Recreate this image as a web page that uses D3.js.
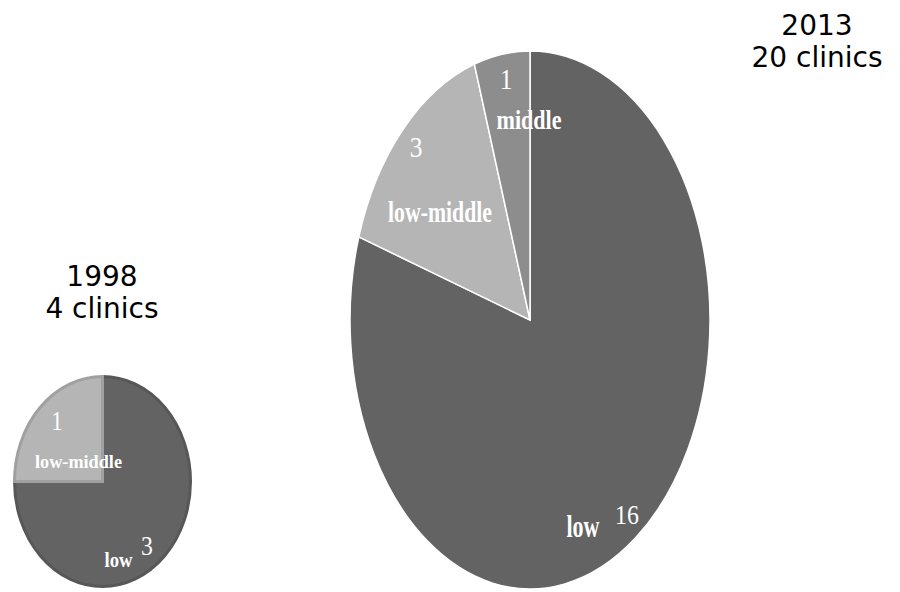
<!DOCTYPE html>
<html>
<head>
<meta charset="utf-8">
<script src="https://cdn.jsdelivr.net/npm/d3@7"></script>
<style>
  body { margin: 0; background: #fff; }
</style>
</head>
<body>
<div id="chart"></div>
<script>
var width = 900;
var height = 592;

// data
var categories = ["low", "low-middle", "middle"];
var clinics1998 = [3, 1, 0];
var clinics2013 = [16, 3, 1];
var years = ["1998", "2013"];
var totals = ["4 clinics", "20 clinics"];

var fills = {"low": "#636363", "low-middle": "#b5b5b5", "middle": "#8d8d8d"};

var svg = d3.select("#chart")
    .append("svg")
    .attr("width", width)
    .attr("height", height);

var pie = d3.pie().sort(null).value(d => d.v);
var arc = d3.arc().innerRadius(0).outerRadius(1);

function drawPie(values, cx, cy, rx, ry, strokeFn, strokeW) {
    var data = categories.map((c, i) => ({c: c, v: values[i]})).filter(d => d.v > 0);
    var g = svg.append("g")
        .attr("transform", "translate(" + cx + "," + cy + ") scale(" + rx + "," + ry + ")");
    g.selectAll("path")
        .data(pie(data))
        .enter()
        .append("path")
        .attr("d", arc)
        .attr("fill", d => fills[d.data.c])
        .attr("stroke", d => strokeFn(d.data.c))
        .attr("stroke-width", strokeW)
        .attr("vector-effect", "non-scaling-stroke");
}

// 1998 small pie
drawPie(clinics1998, 102.5, 481.5, 88, 105,
    c => d3.color(fills[c]).darker(0.35), 3);
// 2013 big pie
drawPie(clinics2013, 530, 320, 180, 269, c => "white", 1.5);

// w = squeezed width of a word label; numbers are just narrowed a bit
function label(x, y, txt, size, bold, w) {
    var t = svg.append("text")
        .style("text-anchor", "middle")
        .text(txt)
        .attr("fill", "white")
        .style("font-family", "Liberation Serif, Times New Roman, serif")
        .style("font-weight", bold ? "bold" : "normal")
        .style("font-size", size + "px");
    if (w) {
        t.attr("x", x).attr("y", y)
            .attr("textLength", w)
            .attr("lengthAdjust", "spacingAndGlyphs");
    } else {
        t.attr("transform", "translate(" + x + "," + y + ") scale(0.85,1)");
    }
}

// 2013 labels
label(506, 89, clinics2013[2], 30, false);
label(529, 129, categories[2], 27, true, 65);
label(416, 157, clinics2013[1], 30, false);
label(440, 222, categories[1], 30, true, 104);
label(583, 537, categories[0], 31, true, 33);
label(627, 524, clinics2013[0], 28, false);

// 1998 labels
label(57, 430, clinics1998[1], 27, false);
label(78.5, 468, categories[1], 19, true, 87);
label(118.5, 567, categories[0], 21, true, 28);
label(147, 555, clinics1998[0], 28, false);

function title(x, y, lines) {
    lines.forEach((t, i) => {
        svg.append("text")
            .attr("x", x)
            .attr("y", y + i * 32)
            .style("text-anchor", "middle")
            .text(t)
            .attr("fill", "black")
            .style("font-family", "DejaVu Sans, sans-serif")
            .style("font-size", "28px");
    });
}

title(102, 286, [years[0], totals[0]]);
title(817, 35, [years[1], totals[1]]);
</script>
</body>
</html>
